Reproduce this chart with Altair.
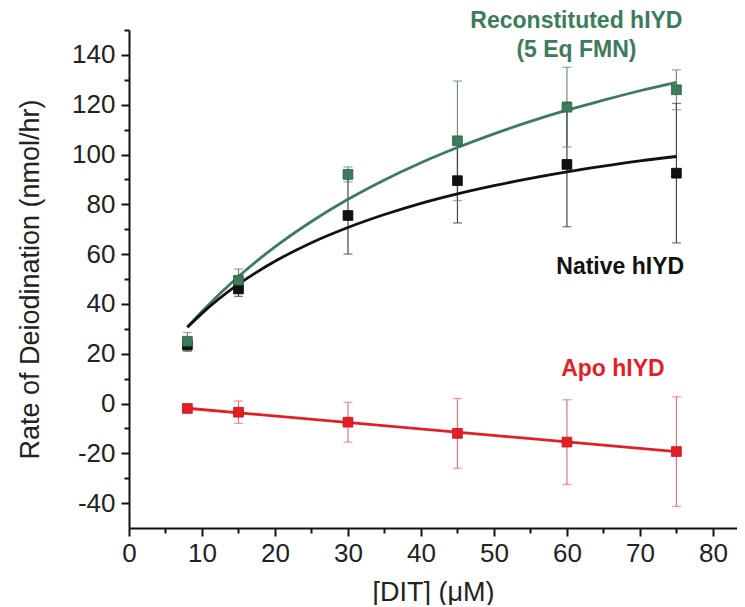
import altair as alt
import pandas as pd

# ---- data ----
x_conc = [8, 15, 30, 45, 60, 75]

recon_rate = [25.0, 49.5, 92.0, 105.5, 119.0, 126.0]
recon_err = [3.5, 4.5, 3.0, 24.0, 16.0, 8.0]

native_rate = [23.5, 46.0, 75.5, 89.5, 96.0, 92.5]
native_err = [2.5, 3.0, 15.5, 17.0, 25.0, 28.0]

apo_rate = [-2.0, -3.5, -7.5, -12.0, -15.5, -19.3]
apo_err = [1.0, 4.5, 8.0, 14.0, 17.0, 22.0]

fit_x = [8, 10, 15, 20, 25, 30, 35, 40, 45, 50, 55, 60, 65, 70, 75]
recon_fit = [30.7, 37.0, 51.0, 62.9, 73.1, 82.0, 89.8, 96.7, 102.8, 108.3, 113.3, 117.8, 121.8, 125.6, 129.0]
native_fit = [30.6, 36.2, 47.9, 57.1, 64.6, 70.7, 75.9, 80.4, 84.2, 87.5, 90.4, 93.0, 95.3, 97.4, 99.2]
apo_fit_x = [8, 75]
apo_fit = [-1.9, -19.3]

series_names = ["Reconstituted", "Native", "Apo"]
series_colors = ["#3d7b5c", "#111111", "#e41e26"]
errbar_colors = ["#6f8f7d", "#444444", "#e8737b"]
marker_strokes = ["#2a5a42", "#000000", "#c81018"]

label_text = ["Reconstituted hIYD", "(5 Eq FMN)", "Native hIYD", "Apo hIYD"]
label_series = ["Reconstituted", "Reconstituted", "Native", "Apo"]
label_x = [61.3, 61.3, 67.3, 66.3]
label_y = [153.5, 142.0, 55.0, 14.0]

# ---- tables ----
rows = []
for name, rates, errs in zip(series_names, [recon_rate, native_rate, apo_rate],
                             [recon_err, native_err, apo_err]):
    for x, r, e in zip(x_conc, rates, errs):
        rows.append({"series": name, "x": x, "y": r, "lo": r - e, "hi": r + e})
pts = pd.DataFrame(rows)
marks_order = ["Native", "Reconstituted", "Apo"]
pts["ord"] = pts["series"].map({s: i for i, s in enumerate(marks_order)})

fit_rows = []
for name, xs_, ys_ in zip(series_names, [fit_x, fit_x, apo_fit_x], [recon_fit, native_fit, apo_fit]):
    for x, y in zip(xs_, ys_):
        fit_rows.append({"series": name, "x": x, "y": y})
fits = pd.DataFrame(fit_rows)

labels = pd.DataFrame({"text": label_text, "series": label_series, "x": label_x, "y": label_y})

FONT = "Liberation Sans"
xs = alt.Scale(domain=[0, 83.3], nice=False, zero=False)
ys = alt.Scale(domain=[-50, 150], nice=False, zero=False)


def cscale(rng):
    return alt.Scale(domain=series_names, range=rng)


x_major = alt.Axis(values=list(range(0, 81, 10)), title="[DIT] (μM)", orient="bottom",
                   tickSize=8, tickWidth=2, tickColor="#111", domainWidth=2, domainColor="#111",
                   labelFontSize=26, labelFont=FONT, labelColor="#222", labelPadding=4,
                   labelFlush=False, titleFontSize=27, titleFont=FONT, titleFontWeight="normal",
                   titleColor="#222", titlePadding=13, grid=False)
y_major = alt.Axis(values=list(range(-40, 141, 20)), title="Rate of Deiodination (nmol/hr)",
                   orient="left", tickSize=8, tickWidth=2, tickColor="#111", domainWidth=2,
                   domainColor="#111", labelFontSize=26, labelFont=FONT, labelColor="#222",
                   labelPadding=6, labelFlush=False, labelExpr="'' + datum.value",
                   titleFontSize=27, titleFont=FONT,
                   titleFontWeight="normal", titleColor="#222", titlePadding=27, grid=False)
x_minor = alt.Axis(values=list(range(5, 80, 10)), title="", orient="bottom", labels=False,
                   domain=False, tickSize=5, tickWidth=2, tickColor="#111", grid=False)
y_minor = alt.Axis(values=list(range(-30, 151, 20)), title="", orient="left", labels=False,
                   domain=False, tickSize=5, tickWidth=2, tickColor="#111", grid=False)

X = lambda f: alt.X(f, scale=xs, axis=None)
Y = lambda f: alt.Y(f, scale=ys, axis=None)

base_axes = alt.Chart(pts).mark_point(opacity=0).encode(
    x=alt.X("x:Q", scale=xs, axis=x_major),
    y=alt.Y("y:Q", scale=ys, axis=y_major),
)
minor_axes = alt.Chart(pts).mark_point(opacity=0).encode(
    x=alt.X("x:Q", scale=xs, axis=x_minor),
    y=alt.Y("y:Q", scale=ys, axis=y_minor),
)

err_rule = alt.Chart(pts).mark_rule(strokeWidth=1.2).encode(
    x=X("x:Q"), y=Y("lo:Q"), y2="hi:Q",
    color=alt.Color("series:N", scale=cscale(errbar_colors), legend=None))
cap_lo = alt.Chart(pts).mark_tick(orient="horizontal", size=9, thickness=1.3).encode(
    x=X("x:Q"), y=Y("lo:Q"),
    color=alt.Color("series:N", scale=cscale(errbar_colors), legend=None))
cap_hi = alt.Chart(pts).mark_tick(orient="horizontal", size=9, thickness=1.3).encode(
    x=X("x:Q"), y=Y("hi:Q"),
    color=alt.Color("series:N", scale=cscale(errbar_colors), legend=None))

errs = alt.layer(err_rule, cap_lo, cap_hi)

lines = alt.Chart(fits).mark_line(strokeWidth=2.8, interpolate="monotone").encode(
    x=X("x:Q"), y=Y("y:Q"),
    color=alt.Color("series:N", scale=cscale(series_colors), legend=None), detail="series:N")

markers = alt.Chart(pts).mark_point(shape="square", filled=True, size=95, opacity=1,
                                    strokeWidth=0.8).encode(
    x=X("x:Q"), y=Y("y:Q"),
    fill=alt.Fill("series:N", scale=cscale(series_colors), legend=None),
    stroke=alt.Stroke("series:N", scale=cscale(marker_strokes), legend=None),
    order=alt.Order("ord:Q"))

texts = alt.Chart(labels).mark_text(font=FONT, fontSize=23, fontWeight="bold",
                                    align="center", baseline="middle").encode(
    x=X("x:Q"), y=Y("y:Q"), text="text:N",
    color=alt.Color("series:N", scale=cscale(series_colors), legend=None))

chart = alt.layer(base_axes, minor_axes, errs, lines, markers, texts).resolve_axis(
    x="independent", y="independent"
).resolve_scale(color="independent", fill="independent", stroke="independent").properties(
    width=608, height=498,
    autosize=alt.AutoSizeParams(type="none"),
    padding={"left": 121, "top": 22, "right": 0, "bottom": 77},
).configure_view(stroke=None)

chart.save("out.html", embed_options={"renderer": "svg", "actions": False})
